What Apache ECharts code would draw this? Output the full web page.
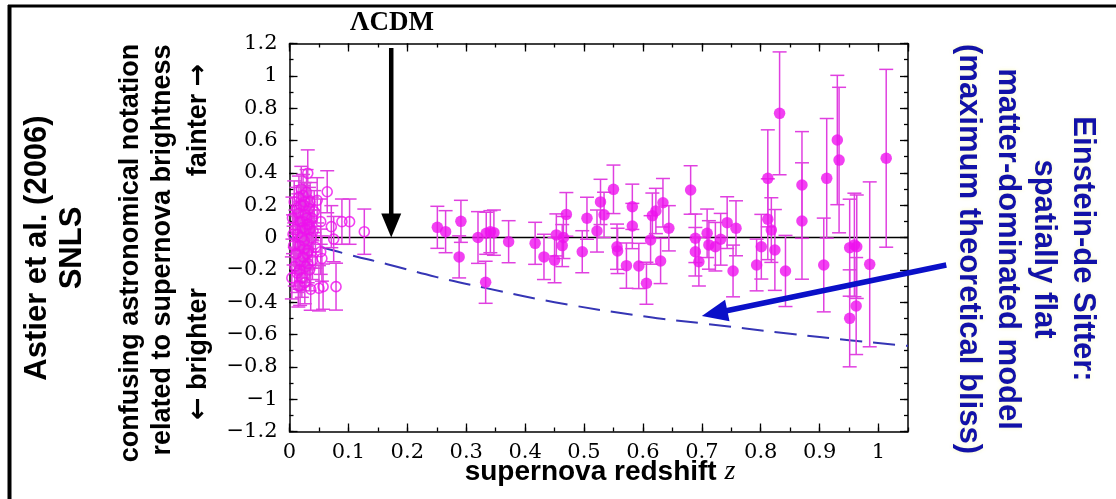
<!DOCTYPE html>
<html><head><meta charset="utf-8">
<script src="https://cdn.jsdelivr.net/npm/echarts@6/dist/echarts.min.js"></script>
<style>html,body{margin:0;padding:0;background:#fff}#c{width:1116px;height:499px}</style>
</head><body><div id="c"></div>
<script>
// Low-redshift supernovae (open circles)
const lowZ   = [0.004,0.005,0.006,0.007,0.008,0.009,0.010,0.011,0.012,0.013,0.014,0.015,0.016,0.017,0.018,0.019,0.020,0.021,0.022,0.023,0.024,0.025,0.026,0.027,0.028,0.029,0.030,0.031,0.032,0.033,0.034,0.035,0.036,0.037,0.038,0.039,0.040,0.042,0.044,0.047,0.050,0.053,0.053,0.055,0.057,0.064,0.071,0.075,0.079,0.089,0.102,0.127,
                0.015,0.017,0.019,0.021,0.023,0.025,0.027,0.029,0.031,0.033,0.018,0.022,0.026,0.030,0.034];
const lowMu  = [-0.25,0.12,0.02,-0.05,0.22,-0.18,0.05,-0.10,0.18,-0.22,0.02,-0.30,0.25,-0.05,0.10,-0.15,0.30,-0.25,0.06,-0.12,0.20,-0.02,-0.28,0.14,-0.18,0.28,0.08,0.397,-0.08,0.08,-0.20,0.22,-0.32,0.00,0.12,-0.14,0.04,0.16,-0.06,0.23,-0.314,0.098,-0.088,-0.13,-0.304,0.283,0.067,-0.01,-0.304,0.098,0.098,0.036,
                0.15,-0.20,0.20,0.00,0.26,-0.07,0.05,0.12,-0.16,0.18,-0.30,0.10,0.22,-0.10,0.05];
const lowErr = [0.13,0.13,0.12,0.12,0.13,0.12,0.12,0.12,0.13,0.12,0.11,0.13,0.13,0.12,0.12,0.12,0.14,0.12,0.12,0.13,0.12,0.12,0.13,0.12,0.12,0.14,0.12,0.145,0.12,0.12,0.13,0.12,0.13,0.12,0.13,0.12,0.13,0.13,0.13,0.14,0.14,0.14,0.14,0.14,0.14,0.13,0.13,0.14,0.145,0.14,0.14,0.14,
                0.12,0.12,0.12,0.11,0.13,0.12,0.12,0.12,0.12,0.13,0.12,0.12,0.12,0.12,0.12];

// SNLS high-redshift supernovae (filled circles)
const highZ   = [0.251,0.265,0.288,0.291,0.320,0.333,0.334,0.341,0.347,0.372,0.417,0.432,0.450,0.453,0.463,0.465,0.470,0.497,0.505,0.522,0.528,0.534,0.550,0.556,0.557,0.572,0.582,0.582,0.593,0.606,0.613,0.616,0.622,0.630,0.634,0.644,0.681,0.689,0.689,0.695,0.709,0.712,0.723,0.732,0.743,0.753,0.758,0.793,0.801,0.812,0.812,0.818,0.824,0.832,0.842,0.870,0.870,0.907,0.912,0.930,0.933,0.951,0.951,0.959,0.962,0.963,0.985,1.013];
const highMu  = [0.063,0.036,-0.12,0.10,0.00,-0.277,0.026,0.036,0.03,-0.026,-0.036,-0.12,-0.14,0.016,-0.05,0.00,0.143,-0.088,0.119,0.04,0.22,0.14,0.298,-0.057,-0.083,-0.174,0.19,0.071,-0.176,-0.283,-0.015,0.135,0.164,-0.145,0.215,0.057,0.294,-0.005,-0.088,-0.15,0.026,-0.046,-0.057,-0.011,0.092,-0.207,0.057,-0.17,-0.057,0.366,0.113,0.046,-0.077,0.768,-0.207,0.325,0.102,-0.17,0.366,0.603,0.479,-0.063,-0.50,-0.046,-0.424,-0.057,-0.166,0.49];
const highErr = [0.13,0.13,0.13,0.13,0.16,0.13,0.13,0.13,0.14,0.13,0.13,0.14,0.14,0.13,0.13,0.13,0.135,0.13,0.13,0.13,0.14,0.14,0.15,0.14,0.14,0.14,0.14,0.14,0.14,0.13,0.15,0.14,0.14,0.14,0.15,0.14,0.15,0.15,0.15,0.15,0.15,0.15,0.15,0.16,0.16,0.16,0.17,0.16,0.20,0.30,0.25,0.20,0.25,0.38,0.22,0.33,0.36,0.29,0.37,0.40,0.45,0.30,0.30,0.32,0.30,0.32,0.51,0.55];

// Einstein-de Sitter curve
const edsZ  = [0,0.05,0.10,0.166,0.25,0.33,0.45,0.607,0.698,0.85,0.95,1.05];
const edsMu = [0,-0.055,-0.105,-0.165,-0.245,-0.31,-0.40,-0.49,-0.53,-0.595,-0.635,-0.67];

// Axis ticks
const xMin = 0, xMax = 1.05, xMajor = 0.1, xMinor = 0.05;
const yMin = -1.2, yMax = 1.2, yMajor = 0.2, yMinor = 0.1;

const MAG = '#ee11ee', BAR = '#e040e0';
const tickFont = 'DejaVu Serif';
function fmt(v){ const r = Math.round(v*10)/10; return String(r).replace('-', '\u2212'); }

function axisX(pos, interval, len, labels, line){
  return {type:'value', position:pos, min:xMin, max:xMax, interval:interval,
    axisLine:{show:line, onZero:false, lineStyle:{color:'#000', width:1.5}},
    axisTick:{show:true, inside:true, length:len, lineStyle:{color:'#000', width:1.3}},
    axisLabel:{show:labels, margin:11, fontFamily:tickFont, fontSize:21, color:'#000', showMaxLabel:false, formatter:fmt},
    splitLine:{show:false}};
}
function axisY(pos, interval, len, labels, line){
  return {type:'value', position:pos, min:yMin, max:yMax, interval:interval,
    axisLine:{show:line, onZero:false, lineStyle:{color:'#000', width:1.5}},
    axisTick:{show:true, inside:true, length:len, lineStyle:{color:'#000', width:1.3}},
    axisLabel:{show:labels, margin:12, fontFamily:tickFont, fontSize:21, color:'#000', formatter:fmt},
    splitLine:{show:false}};
}

function errRender(params, api){
  const x = api.value(0);
  const lo = api.coord([x, api.value(1)]);
  const hi = api.coord([x, api.value(2)]);
  const w = 7;
  const st = {stroke:BAR, lineWidth:1.5};
  return {type:'group', children:[
    {type:'line', shape:{x1:lo[0], y1:lo[1], x2:hi[0], y2:hi[1]}, style:st},
    {type:'line', shape:{x1:lo[0]-w, y1:lo[1], x2:lo[0]+w, y2:lo[1]}, style:st},
    {type:'line', shape:{x1:hi[0]-w, y1:hi[1], x2:hi[0]+w, y2:hi[1]}, style:st}
  ]};
}
function arrowRender(params, api){
  const a = api.coord([api.value(0), api.value(1)]);
  const b = api.coord([api.value(2), api.value(3)]);
  const lw = api.value(4), hl = api.value(5), hw = api.value(6);
  const color = params.dataIndex === 0 ? '#000' : '#0a10c8';
  const dx = b[0]-a[0], dy = b[1]-a[1], L = Math.hypot(dx,dy);
  const ux = dx/L, uy = dy/L;
  const bx = b[0]-ux*hl, by = b[1]-uy*hl;
  return {type:'group', children:[
    {type:'line', shape:{x1:a[0], y1:a[1], x2:bx+ux*2, y2:by+uy*2}, style:{stroke:color, lineWidth:lw}},
    {type:'polygon', shape:{points:[[b[0],b[1]],[bx-uy*hw/2, by+ux*hw/2],[bx+uy*hw/2, by-ux*hw/2]]}, style:{fill:color}}
  ]};
}

const sans = '"Liberation Sans", Arial, sans-serif';
const arrowRich = {t:{font:'bold 27px ' + sans, fill:'#000'}, ar:{font:'bold 27px "DejaVu Sans"', fill:'#000'}};
const blueStyle = (t) => ({text:t, font:'bold 31px ' + sans, fill:'#1212a8', align:'center', verticalAlign:'middle',
  textShadowColor:'rgba(250,250,190,0.9)', textShadowBlur:4});

const chart = echarts.init(document.getElementById('c'), null, {renderer:'canvas'});
const option = {
  animation:false,
  backgroundColor:'#fff',
  grid:{left:289.5, top:43.5, right:208, bottom:67.5, containLabel:false},
  xAxis:[axisX('bottom', xMajor, 8, true, true), axisX('bottom', xMinor, 4, false, false),
         axisX('top', xMajor, 8, false, true), axisX('top', xMinor, 4, false, false)],
  yAxis:[axisY('left', yMajor, 8, true, true), axisY('left', yMinor, 4, false, false),
         axisY('right', yMajor, 8, false, true), axisY('right', yMinor, 4, false, false)],
  series:[
    {type:'line', data:[[xMin,0],[xMax,0]], symbol:'none', lineStyle:{color:'#000', width:1.5}, z:1},
    {type:'line', data:edsZ.map((z,i)=>[z, edsMu[i]]), smooth:true, symbol:'none',
      lineStyle:{color:'#3535b5', width:2, type:[22,11]}, z:1},
    {type:'custom', renderItem:errRender, data:lowZ.map((z,i)=>[z, lowMu[i]-lowErr[i], lowMu[i]+lowErr[i]]), z:2},
    {type:'custom', renderItem:errRender, data:highZ.map((z,i)=>[z, highMu[i]-highErr[i], highMu[i]+highErr[i]]), z:2},
    {type:'scatter', data:lowZ.map((z,i)=>[z, lowMu[i]]), symbol:'circle', symbolSize:10,
      itemStyle:{color:'rgba(0,0,0,0)', borderColor:MAG, borderWidth:1.6}, z:3},
    {type:'scatter', data:highZ.map((z,i)=>[z, highMu[i]]), symbol:'circle', symbolSize:11.5,
      itemStyle:{color:MAG}, z:3},
    {type:'custom', renderItem:arrowRender, clip:false, z:5,
      data:[[0.1727, 1.172, 0.1727, 0.0, 4.5, 24, 20], [1.115, -0.17, 0.700, -0.485, 5.5, 26, 22]]}
  ],
  graphic:[
    {type:'line', shape:{x1:8, y1:6, x2:1116, y2:6}, style:{stroke:'#000', lineWidth:3}},
    {type:'line', shape:{x1:9.5, y1:5, x2:9.5, y2:499}, style:{stroke:'#000', lineWidth:4}},
    {type:'text', x:37, y:248, rotation:Math.PI/2, style:{text:'Astier et al. (2006)', font:'bold 31px ' + sans, fill:'#000', align:'center', verticalAlign:'middle'}},
    {type:'text', x:72, y:248, rotation:Math.PI/2, style:{text:'SNLS', font:'bold 31px ' + sans, fill:'#000', align:'center', verticalAlign:'middle'}},
    {type:'text', x:131, y:253, rotation:Math.PI/2, style:{text:'confusing astronomical notation', font:'bold 27px ' + sans, fill:'#000', align:'center', verticalAlign:'middle'}},
    {type:'text', x:163, y:250, rotation:Math.PI/2, style:{text:'related to supernova brightness', font:'bold 27px ' + sans, fill:'#000', align:'center', verticalAlign:'middle'}},
    {type:'text', x:199, y:120, rotation:Math.PI/2, style:{text:'{t|fainter }{ar|\u2192}', rich:arrowRich, align:'center', verticalAlign:'middle'}},
    {type:'text', x:199, y:354, rotation:Math.PI/2, style:{text:'{ar|\u2190}{t| brighter}', rich:arrowRich, align:'center', verticalAlign:'middle'}},
    {type:'text', x:392, y:23, style:{text:'\u039BCDM', font:'bold 27px "Liberation Serif"', fill:'#000', align:'center', verticalAlign:'middle'}},
    {type:'text', x:600, y:472, style:{text:'{a|supernova redshift }{z|z}', align:'center', verticalAlign:'middle',
      rich:{a:{font:'bold 28px ' + sans, fill:'#000'}, z:{font:'italic 28px "Liberation Serif"', fill:'#000'}}}},
    {type:'text', x:1083, y:249, rotation:-Math.PI/2, style:blueStyle('Einstein-de Sitter:')},
    {type:'text', x:1044, y:249, rotation:-Math.PI/2, style:blueStyle('spatially flat')},
    {type:'text', x:1008, y:249, rotation:-Math.PI/2, style:blueStyle('matter-dominated model')},
    {type:'text', x:969, y:249, rotation:-Math.PI/2, style:blueStyle('(maximum theoretical bliss)')}
  ]
};
chart.setOption(option);
</script>
</body></html>
